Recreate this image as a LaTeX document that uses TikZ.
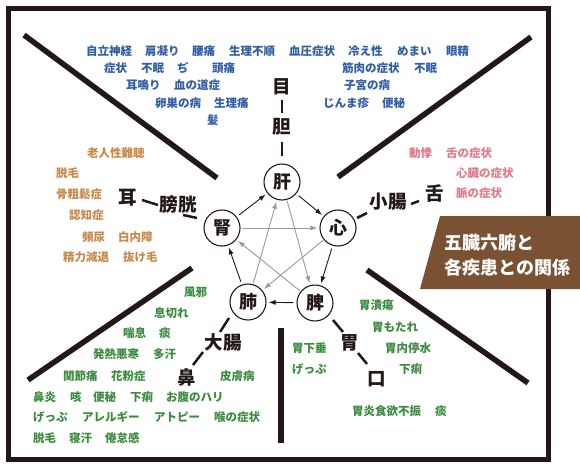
\documentclass[tikz,border=0pt]{standalone}
\usepackage{fontspec}
\newfontfamily\jp{Noto Sans CJK JP}
\usetikzlibrary{arrows.meta}
\definecolor{framecol}{HTML}{231815}
\definecolor{kancol}{HTML}{2F5DA6}
\definecolor{jincol}{HTML}{C8894B}
\definecolor{shincol}{HTML}{E07B88}
\definecolor{haicol}{HTML}{3C8C3F}
\definecolor{boxcol}{HTML}{7A5233}
\definecolor{starcol}{HTML}{9A9A9A}
\tikzset{
  organ/.style={circle, draw=framecol, line width=1.1pt, minimum size=36pt, inner sep=0pt,
    text=framecol, font=\jp\bfseries\fontsize{18}{18}\selectfont},
  part/.style={inner sep=0pt, text=framecol, font=\jp\bfseries\fontsize{18.5}{19}\selectfont},
  sym/.style={anchor=west, inner sep=0pt, font=\jp\bfseries\fontsize{11.5}{13}\selectfont},
  kansym/.style={sym, text=kancol},
  jinsym/.style={sym, text=jincol},
  shinsym/.style={sym, text=shincol},
  haisym/.style={sym, text=haicol},
  wall/.style={draw=framecol, line width=5pt},
  divider/.style={draw=framecol, line width=5.5pt},
  link/.style={draw=framecol, line width=2.5pt},
  feed/.style={draw=framecol, line width=0.9pt, -{Latex[length=7pt,width=5pt]}, shorten <=3pt, shorten >=2pt},
  curb/.style={draw=starcol, line width=0.9pt, -{Latex[length=7pt,width=5pt]}, shorten <=1pt, shorten >=2pt},
  titletext/.style={anchor=west, inner sep=0pt, text=white, font=\jp\bfseries\fontsize{18}{19}\selectfont}
}
\begin{document}
\begin{tikzpicture}[x=1pt, y=-1pt]
\useasboundingbox[fill=white] (0,0) rectangle (580,471);

% frame and dividers
\draw[wall] (8.5,8.5) rectangle (548.5,459.5);
\draw[divider] (24,35) -- (217,178);
\draw[divider] (531,37) -- (338,177);
\draw[divider] (192,268) -- (28,380);
\draw[divider] (367,270) -- (528,383);
\draw[divider] (281,328) -- (281,443);

% title box
\fill[boxcol] (440,216) -- (580,216) -- (580,289) -- (420,289) -- cycle;
\node[titletext] (title1) at (444,243) {五臓六腑と};
\node[titletext] (title2) at (444,268) {各疾患との関係};

% five organs
\node[organ] (kan) at (282,182) {肝};
\node[organ] (shin) at (338,228) {心};
\node[organ] (hi) at (315,303) {脾};
\node[organ] (hai) at (248,302) {肺};
\node[organ] (jin) at (222,228) {腎};

% generating cycle
\draw[feed] (jin) -- (kan);
\draw[feed] (kan) -- (shin);
\draw[feed] (shin) -- (hi);
\draw[feed] (hi) -- (hai);
\draw[feed] (hai) -- (jin);

% controlling cycle
\draw[curb] (kan) -- (hi);
\draw[curb] (shin) -- (hai);
\draw[curb] (hi) -- (jin);
\draw[curb] (hai) -- (kan);
\draw[curb] (jin) -- (shin);

% paired organs and senses
\node[part] (me) at (282,87) {目};
\node[part] (tan) at (282,127) {胆};
\node[part] (shocho) at (388,202) {小腸};
\node[part] (shita) at (435,194) {舌};
\node[part] (bokou) at (178,204) {膀胱};
\node[part] (mimi) at (128,198) {耳};
\node[part] (daicho) at (223,343) {大腸};
\node[part] (hana) at (187,377) {鼻};
\node[part] (i) at (350,343) {胃};
\node[part] (kuchi) at (377,379) {口};

\draw[link] ([shift={(0,13)}]me.center) -- ([shift={(0,-14)}]tan.center);
\draw[link] ([shift={(0,15)}]tan.center) -- ([shift={(0,-26)}]kan.center);
\draw[link] ([shift={(19,-10)}]shin.center) -- ([shift={(-21,11)}]shocho.center);
\draw[link] ([shift={(23,2)}]shocho.center) -- ([shift={(-16,7)}]shita.center);
\draw[link] ([shift={(14,2)}]mimi.center) -- ([shift={(-20,1)}]bokou.center);
\draw[link] ([shift={(5,11)}]bokou.center) -- ([shift={(-25,-10)}]jin.center);
\draw[link] ([shift={(-19,16)}]hai.center) -- ([shift={(-3,-11)}]daicho.center);
\draw[link] ([shift={(-20,9)}]daicho.center) -- ([shift={(6,-12)}]hana.center);
\draw[link] ([shift={(18,17)}]hi.center) -- ([shift={(-7,-11)}]i.center);
\draw[link] ([shift={(8,10)}]i.center) -- ([shift={(-10,-15)}]kuchi.center);

% liver
\node[kansym] (k1) at (86,51) {自立神経};
\node[kansym] (k2) at (145,51) {肩凝り};
\node[kansym] (k3) at (192,51) {腰痛};
\node[kansym] (k4) at (229,51) {生理不順};
\node[kansym] (k5) at (289,51) {血圧症状};
\node[kansym] (k6) at (348,51) {冷え性};
\node[kansym] (k7) at (397,51) {めまい};
\node[kansym] (k8) at (446,51) {眼精};
\node[kansym] (k9) at (104,68) {症状};
\node[kansym] (k10) at (141,68) {不眠};
\node[kansym] (k11) at (177,68) {ぢ};
\node[kansym] (k12) at (212,68) {頭痛};
\node[kansym] (k13) at (342,68) {筋肉の症状};
\node[kansym] (k14) at (414,68) {不眠};
\node[kansym] (k15) at (126,85) {耳鳴り};
\node[kansym] (k16) at (174,85) {血の道症};
\node[kansym] (k17) at (344,85) {子宮の病};
\node[kansym] (k18) at (155,103) {卵巣の病};
\node[kansym] (k19) at (214,103) {生理痛};
\node[kansym] (k20) at (323,103) {じんま疹};
\node[kansym] (k21) at (382,103) {便秘};
\node[kansym] (k22) at (207,120) {髪};

% kidney
\node[jinsym] (j1) at (87,153) {老人性難聴};
\node[jinsym] (j2) at (56,173) {脱毛};
\node[jinsym] (j3) at (56,194) {骨粗鬆症};
\node[jinsym] (j4) at (69,215) {認知症};
\node[jinsym] (j5) at (82,237) {頻尿};
\node[jinsym] (j6) at (118,237) {白内障};
\node[jinsym] (j7) at (63,257) {精力減退};
\node[jinsym] (j8) at (123,257) {抜け毛};

% heart
\node[shinsym] (s1) at (409,153) {動悸};
\node[shinsym] (s2) at (446,153) {舌の症状};
\node[shinsym] (s3) at (456,173) {心臓の症状};
\node[shinsym] (s4) at (456,193) {脈の症状};

% lung
\node[haisym] (h1) at (184,292) {風邪};
\node[haisym] (h2) at (154,313) {息切れ};
\node[haisym] (h3) at (123,333) {喘息};
\node[haisym] (h4) at (159,333) {痰};
\node[haisym] (h5) at (93,354) {発熱悪寒};
\node[haisym] (h6) at (153,354) {多汗};
\node[haisym] (h7) at (63,376) {関節痛};
\node[haisym] (h8) at (111,376) {花粉症};
\node[haisym] (h9) at (220,376) {皮膚病};
\node[haisym] (h10) at (33,397) {鼻炎};
\node[haisym] (h11) at (70,397) {咳};
\node[haisym] (h12) at (93,397) {便秘};
\node[haisym] (h13) at (130,397) {下痢};
\node[haisym] (h14) at (166,397) {お腹のハリ};
\node[haisym] (h15) at (33,417) {げっぷ};
\node[haisym] (h16) at (82,417) {アレルギー};
\node[haisym] (h17) at (154,417) {アトピー};
\node[haisym] (h18) at (214,417) {喉の症状};
\node[haisym] (h19) at (33,438) {脱毛};
\node[haisym] (h20) at (69,438) {寝汗};
\node[haisym] (h21) at (105,438) {倦怠感};

% spleen
\node[haisym] (p1) at (359,305) {胃潰瘍};
\node[haisym] (p2) at (372,327) {胃もたれ};
\node[haisym] (p3) at (292,348) {胃下垂};
\node[haisym] (p4) at (385,348) {胃内停水};
\node[haisym] (p5) at (292,369) {げっぷ};
\node[haisym] (p6) at (399,369) {下痢};
\node[haisym] (p7) at (352,411) {胃炎食欲不振};
\node[haisym] (p8) at (435,411) {痰};
\end{tikzpicture}
\end{document}
